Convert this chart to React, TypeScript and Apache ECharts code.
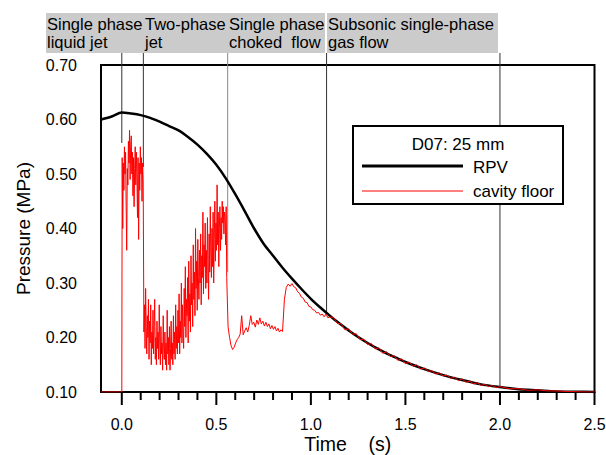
import React, { useEffect, useRef } from "react";
import * as echarts from "echarts";

// ---- Data ----
const rpvTime = [-0.11, -0.05, 0, 0.05, 0.1, 0.15, 0.2, 0.25, 0.3, 0.35, 0.4, 0.45, 0.5, 0.55, 0.6, 0.65, 0.7, 0.75, 0.8, 0.85, 0.9, 0.95, 1.0, 1.05, 1.1, 1.15, 1.2, 1.25, 1.3, 1.35, 1.4, 1.45, 1.5, 1.6, 1.7, 1.8, 1.9, 2.0, 2.1, 2.2, 2.3, 2.4, 2.5];
const rpvPressure = [0.600, 0.606, 0.613, 0.611, 0.608, 0.603, 0.596, 0.588, 0.580, 0.568, 0.554, 0.537, 0.517, 0.492, 0.463, 0.432, 0.400, 0.372, 0.350, 0.328, 0.308, 0.289, 0.271, 0.255, 0.240, 0.226, 0.213, 0.201, 0.190, 0.180, 0.171, 0.163, 0.155, 0.142, 0.131, 0.122, 0.114, 0.109, 0.105, 0.103, 0.101, 0.1005, 0.100];

// cavity floor, by flow phase (sampled every `step` seconds from `start`)
const preJetTime = [-0.11, 0.0];
const preJetPressure = [0.10, 0.10];

const jetStart = 0.002, jetStep = 0.003;
const jetPressure = [
  0.53, 0.40, 0.52, 0.47, 0.55, 0.50, 0.54, 0.44, 0.36, 0.51,
  0.48, 0.56, 0.52, 0.58, 0.49, 0.55, 0.57, 0.50, 0.54, 0.46,
  0.53, 0.44, 0.51, 0.55, 0.48, 0.54, 0.50, 0.42, 0.53, 0.38,
  0.52, 0.47, 0.55, 0.50, 0.53, 0.45, 0.52, 0.49];

const twoPhaseStart = 0.117, twoPhaseStep = 0.003;
const twoPhasePressure = [
  0.21, 0.26, 0.18, 0.29, 0.22, 0.17, 0.24, 0.20, 0.27, 0.16,
  0.23, 0.19, 0.26, 0.15, 0.21, 0.18, 0.25, 0.17, 0.22, 0.27,
  0.16, 0.20, 0.15, 0.23, 0.18, 0.21, 0.16, 0.26, 0.19, 0.15,
  0.22, 0.17, 0.19, 0.14, 0.24, 0.18, 0.16, 0.21, 0.15, 0.19,
  0.14, 0.25, 0.17, 0.20, 0.15, 0.22, 0.14, 0.18, 0.23, 0.16,
  0.19, 0.15, 0.24, 0.17, 0.21, 0.16, 0.26, 0.18, 0.22, 0.17,
  0.25, 0.19, 0.28, 0.17, 0.23, 0.20, 0.30, 0.19, 0.26, 0.21,
  0.18, 0.29, 0.22, 0.33, 0.20, 0.27, 0.24, 0.31, 0.19, 0.34,
  0.23, 0.28, 0.21, 0.35, 0.26, 0.30, 0.22, 0.37, 0.27, 0.32,
  0.24, 0.40, 0.29, 0.34, 0.25, 0.38, 0.31, 0.27, 0.36, 0.30,
  0.39, 0.26, 0.35, 0.31, 0.43, 0.28, 0.37, 0.33, 0.41, 0.29,
  0.36, 0.30, 0.42, 0.34, 0.27, 0.39, 0.32, 0.44, 0.35, 0.31,
  0.40, 0.33, 0.43, 0.30, 0.38, 0.45, 0.34, 0.41, 0.36, 0.48,
  0.37, 0.43, 0.33, 0.40, 0.44, 0.36, 0.42, 0.38, 0.45, 0.41,
  0.44, 0.39, 0.43, 0.42, 0.37, 0.44, 0.31];

const chokedStart = 0.562, chokedStep = 0.008;
const chokedPressure = [
  0.22, 0.20, 0.185, 0.178, 0.182, 0.19, 0.196, 0.20, 0.206, 0.24,
  0.205, 0.212, 0.218, 0.21, 0.222, 0.24, 0.224, 0.228, 0.219, 0.232,
  0.224, 0.236, 0.225, 0.23, 0.221, 0.228, 0.22, 0.225, 0.216, 0.222,
  0.215, 0.22, 0.212, 0.217, 0.21, 0.214, 0.211];

const gasStart = 0.86, gasStep = 0.01;
const gasPressure = [0.27, 0.292, 0.298, 0.294, 0.299, 0.293, 0.291, 0.284, 0.281, 0.274, 0.272, 0.265, 0.264, 0.257, 0.256, 0.251, 0.25, 0.245, 0.246, 0.241, 0.243, 0.238, 0.243, 0.236, 0.238];

const decayStart = 1.12, decayStep = 0.02;
const decayPressure = [
  0.236, 0.226, 0.225, 0.214, 0.216, 0.206, 0.207, 0.196, 0.197, 0.187,
  0.189, 0.179, 0.181, 0.171, 0.174, 0.165, 0.167, 0.158, 0.161, 0.152,
  0.155, 0.147, 0.150, 0.142, 0.144, 0.138, 0.139, 0.133, 0.135, 0.129,
  0.131, 0.125, 0.127, 0.121, 0.124, 0.118, 0.120, 0.115, 0.117, 0.112,
  0.114, 0.110, 0.112, 0.108, 0.110];

const tailStart = 2.05, tailStep = 0.05;
const tailPressure = [0.106, 0.106, 0.103, 0.104, 0.102, 0.102, 0.101, 0.1005, 0.100, 0.100];

// phase boundaries (time, lower end of the marker line)
const boundaryTime = [0, 0.114, 0.56, 1.083, 2.0];
const boundaryEnd = [0.557, 0.513, 0.32, 0.245, 0.108];
const boundaryColor = ["#333", "#333", "#888", "#333", "#333"];

const phaseLabels = ["Single phase\nliquid jet", "Two-phase\njet", "Single phase\nchoked  flow", "Subsonic single-phase\ngas flow"];

// ticks
const xMajorTicks = [0, 0.5, 1.0, 1.5, 2.0, 2.5];
const xMinorTicks = [0.1, 0.2, 0.3, 0.4, 0.6, 0.7, 0.8, 0.9, 1.1, 1.2, 1.3, 1.4, 1.6, 1.7, 1.8, 1.9, 2.1, 2.2, 2.3, 2.4];
const yMajorTicks = [0.1, 0.2, 0.3, 0.4, 0.5, 0.6, 0.7];
const yMinorTicks = [0.15, 0.25, 0.35, 0.45, 0.55, 0.65];

const legendTitle = "D07: 25 mm";
const seriesNames = ["RPV", "cavity floor"];

// ---- helpers ----
const sampled = (start: number, step: number, values: number[]) =>
  values.map((v, i) => [+(start + i * step).toFixed(4), v]);

const FONT = "'Liberation Sans', Arial, Helvetica, sans-serif";
const X_MIN = -0.11, X_MAX = 2.5, Y_MIN = 0.1, Y_MAX = 0.7;
const GRID_W = 493.5, GRID_H = 327;
const MAJOR_LEN = 13, MINOR_LEN = 8; // px

export default function App() {
  const ref = useRef<HTMLDivElement>(null);

  useEffect(() => {
    document.body.style.margin = "0";
    const chart = echarts.init(ref.current!, null, { renderer: "svg" });

    const rpvData = rpvTime.map((t, i) => [t, rpvPressure[i]]);
    const cavityData = [
      ...preJetTime.map((t, i) => [t, preJetPressure[i]]),
      ...sampled(jetStart, jetStep, jetPressure),
      ...sampled(twoPhaseStart, twoPhaseStep, twoPhasePressure),
      ...sampled(chokedStart, chokedStep, chokedPressure),
      ...sampled(gasStart, gasStep, gasPressure),
      ...sampled(decayStart, decayStep, decayPressure),
      ...sampled(tailStart, tailStep, tailPressure),
    ];

    const boundaryTop = 0.722;
    const boundarySeries = boundaryTime.map((t, i) => ({
      type: "line",
      data: [[t, boundaryTop], [t, boundaryEnd[i]]],
      clip: false,
      showSymbol: false,
      silent: true,
      z: 1,
      lineStyle: { color: boundaryColor[i], width: 1 },
    }));

    // outward tick marks as short unclipped line series (in data units)
    const dxPerPx = (X_MAX - X_MIN) / GRID_W;
    const dyPerPx = (Y_MAX - Y_MIN) / GRID_H;
    const tickSeriesOf = (pts: number[][]) => ({
      type: "line",
      data: pts,
      clip: false,
      showSymbol: false,
      silent: true,
      z: 6,
      lineStyle: { color: "#000", width: 2 },
    });
    const tickSeries = [
      ...xMajorTicks.map((t) => tickSeriesOf([[t, Y_MIN], [t, Y_MIN - MAJOR_LEN * dyPerPx]])),
      ...xMinorTicks.map((t) => tickSeriesOf([[t, Y_MIN], [t, Y_MIN - MINOR_LEN * dyPerPx]])),
      ...yMajorTicks.map((v) => tickSeriesOf([[X_MIN, v], [X_MIN - MAJOR_LEN * dxPerPx, v]])),
      ...yMinorTicks.map((v) => tickSeriesOf([[X_MIN, v], [X_MIN - MINOR_LEN * dxPerPx, v]])),
    ];

    // grey phase header boxes (pixel layout)
    const boxLeft = [46, 144, 228, 327];
    const boxRight = [144, 228, 325, 498];
    const boxTop = 13, boxBottom = 53;
    const headerGraphics: any[] = [];
    phaseLabels.forEach((lab, i) => {
      headerGraphics.push({
        type: "rect",
        z: 0,
        shape: { x: boxLeft[i], y: boxTop, width: boxRight[i] - boxLeft[i], height: boxBottom - boxTop },
        style: { fill: "#cbcbcb" },
      });
      headerGraphics.push({
        type: "text",
        z: 1,
        x: boxLeft[i] + 1,
        y: boxTop + 2,
        style: {
          text: lab,
          fill: "#000",
          fontSize: 16.5,
          fontFamily: FONT,
          lineHeight: 18,
          verticalAlign: "top",
          align: "left",
        },
      });
    });

    const legendGraphics: any[] = [
      {
        type: "rect", z: 100,
        shape: { x: 353, y: 126, width: 210, height: 78 },
        style: { fill: "#fff", stroke: "#000", lineWidth: 2 },
      },
      {
        type: "text", z: 101, x: 458, y: 144,
        style: { text: legendTitle, fill: "#000", fontSize: 17, fontFamily: FONT, align: "center", verticalAlign: "middle" },
      },
      {
        type: "line", z: 101,
        shape: { x1: 362, y1: 166, x2: 463, y2: 166 },
        style: { stroke: "#000", lineWidth: 3 },
      },
      {
        type: "text", z: 101, x: 473, y: 167,
        style: { text: seriesNames[0], fill: "#000", fontSize: 17, fontFamily: FONT, align: "left", verticalAlign: "middle" },
      },
      {
        type: "line", z: 101,
        shape: { x1: 362, y1: 191, x2: 463, y2: 191 },
        style: { stroke: "#ff0000", lineWidth: 1.2 },
      },
      {
        type: "text", z: 101, x: 473, y: 191,
        style: { text: seriesNames[1], fill: "#000", fontSize: 17, fontFamily: FONT, align: "left", verticalAlign: "middle" },
      },
    ];

    chart.setOption({
      animation: false,
      backgroundColor: "#fff",
      textStyle: { fontFamily: FONT },
      grid: {
        left: 101, top: 65, width: GRID_W, height: GRID_H,
        outerBoundsMode: "none",
        containLabel: false,
        show: true, borderColor: "#000", borderWidth: 2, backgroundColor: "transparent",
      },
      xAxis: {
        type: "value",
        min: X_MIN,
        max: X_MAX,
        position: "bottom",
        splitLine: { show: false },
        name: "Time    (s)",
        nameLocation: "middle",
        nameGap: 42,
        nameMoveOverlap: false,
        nameTextStyle: { fontSize: 19.5, color: "#000", fontFamily: FONT },
        axisLine: { show: true, onZero: false, lineStyle: { color: "#000", width: 2 } },
        axisTick: { show: false },
        axisLabel: {
          show: true, customValues: xMajorTicks, margin: 24,
          fontSize: 16, color: "#000", fontFamily: FONT,
          formatter: (v: number) => v.toFixed(1),
        },
      },
      yAxis: {
        type: "value",
        min: Y_MIN,
        max: Y_MAX,
        interval: 0.1,
        name: "Pressure (MPa)",
        nameLocation: "middle",
        nameGap: 68,
        nameMoveOverlap: false,
        nameRotate: 90,
        nameTextStyle: { fontSize: 19, color: "#000", fontFamily: FONT },
        splitLine: { show: false },
        axisLine: { show: true, onZero: false, lineStyle: { color: "#000", width: 2 } },
        axisTick: { show: false },
        minorTick: { show: false },
        axisLabel: {
          margin: 24, fontSize: 16, color: "#000", fontFamily: FONT,
          formatter: (v: number) => v.toFixed(2),
        },
      },
      graphic: [...headerGraphics, ...legendGraphics],
      series: [
        ...boundarySeries,
        ...tickSeries,
        {
          name: seriesNames[0],
          type: "line",
          data: rpvData,
          showSymbol: false,
          smooth: 0.3,
          z: 3,
          lineStyle: { color: "#000", width: 2.5 },
        },
        {
          name: seriesNames[1],
          type: "line",
          data: cavityData,
          showSymbol: false,
          z: 4,
          lineStyle: { color: "#ff0000", width: 1 },
        },
      ],
    });

    return () => chart.dispose();
  }, []);

  return <div ref={ref} style={{ width: 606, height: 455 }} />;
}
